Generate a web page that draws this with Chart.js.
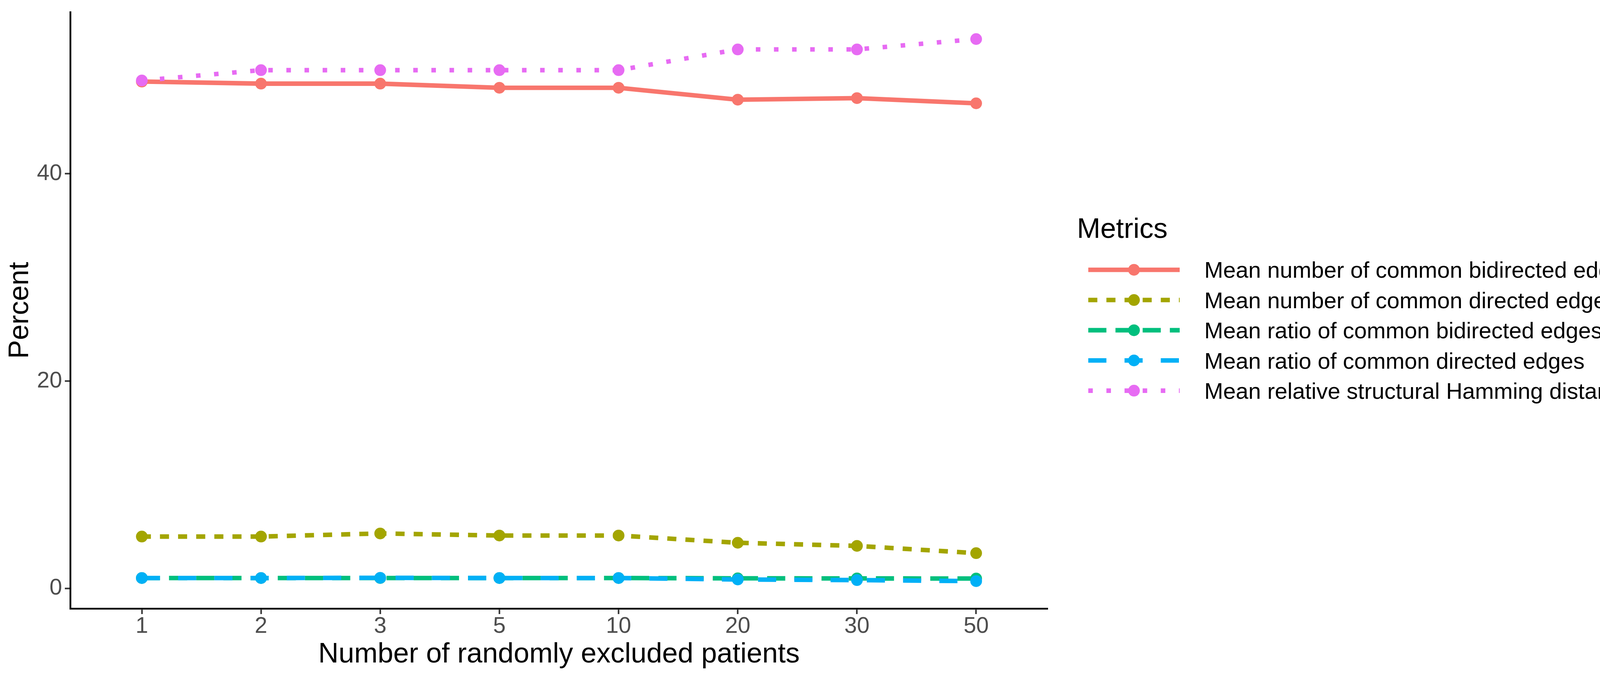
<!DOCTYPE html>
<html>
<head>
<meta charset="utf-8">
<script src="https://cdn.jsdelivr.net/npm/chart.js@4.4.1/dist/chart.umd.min.js"></script>
<style>
html,body{margin:0;padding:0;background:#fff;}
canvas{display:block;}
</style>
</head>
<body>
<canvas id="c" width="4330" height="1728" style="width:4330px;height:1728px"></canvas>
<script>
// ---- data ----
const categories = ["1", "2", "3", "5", "10", "20", "30", "50"];
const seriesNames = [
  "Mean number of common bidirected edges",
  "Mean number of common directed edges",
  "Mean ratio of common bidirected edges",
  "Mean ratio of common directed edges",
  "Mean relative structural Hamming distance×100"
];
const bidirectedNumber = [48.9, 48.7, 48.7, 48.3, 48.3, 47.15, 47.3, 46.8];
const directedNumber   = [5.0, 5.0, 5.3, 5.1, 5.1, 4.4, 4.1, 3.4];
const bidirectedRatio  = [1.0, 1.0, 1.0, 1.0, 1.0, 0.97, 0.96, 0.95];
const directedRatio    = [1.0, 1.0, 1.02, 1.0, 1.0, 0.86, 0.8, 0.7];
const hammingX100      = [49.0, 50.0, 50.0, 50.0, 50.0, 52.0, 52.0, 53.0];
const yTicks = [0, 20, 40];
const xTitle = "Number of randomly excluded patients";
const yTitle = "Percent";
const legendTitle = "Metrics";

// ---- styles ----
const seriesValues = [bidirectedNumber, directedNumber, bidirectedRatio, directedRatio, hammingX100];
const colors = ["#F8766D", "#A3A500", "#00BF7D", "#00B0F6", "#E76BF3"];
const LW = 11.6;
const dashes = [[], [2*LW, 2*LW], [4*LW, 2*LW], [4*LW, 4*LW], [1*LW, 3*LW]];
const PR = 15;
const FONT = '"Liberation Sans", Arial, sans-serif';
const SMALL = 58;
const BIG = 72;

const toPts = arr => arr.map((v, i) => ({x: i, y: v}));

const lineSets = seriesValues.map((vals, i) => ({
  label: seriesNames[i],
  data: toPts(vals),
  borderColor: colors[i],
  backgroundColor: colors[i],
  borderWidth: LW,
  borderDash: dashes[i],
  borderCapStyle: 'butt',
  borderJoinStyle: 'round',
  pointRadius: 0,
  fill: false,
  tension: 0,
  order: 20 - i
}));
const pointSets = seriesValues.map((vals, i) => ({
  label: seriesNames[i] + " points",
  data: toPts(vals),
  showLine: false,
  pointRadius: PR,
  pointBorderWidth: 0,
  pointBackgroundColor: colors[i],
  pointBorderColor: colors[i],
  order: 10 - i
}));

const legendPlugin = {
  id: 'ggLegend',
  afterDraw(chart) {
    const ctx = chart.ctx;
    ctx.save();
    ctx.fillStyle = '#000';
    ctx.font = BIG + 'px ' + FONT;
    ctx.textBaseline = 'alphabetic';
    ctx.textAlign = 'left';
    ctx.fillText(legendTitle, 2757, 609);
    seriesNames.forEach((name, i) => {
      const y = 690.7 + i * 77.35;
      ctx.strokeStyle = colors[i];
      ctx.lineWidth = LW;
      ctx.lineCap = 'butt';
      ctx.setLineDash(dashes[i]);
      ctx.beginPath();
      ctx.moveTo(2786, y);
      ctx.lineTo(3020, y);
      ctx.stroke();
      ctx.setLineDash([]);
      ctx.fillStyle = colors[i];
      ctx.beginPath();
      ctx.arc(2903, y, PR, 0, Math.PI * 2);
      ctx.fill();
      ctx.fillStyle = '#000';
      ctx.font = SMALL + 'px ' + FONT;
      ctx.textBaseline = 'alphabetic';
      ctx.fillText(name, 3083, y + 0.358 * SMALL);
    });
    ctx.restore();
  }
};

new Chart(document.getElementById('c'), {
  type: 'line',
  data: {datasets: [...lineSets, ...pointSets]},
  options: {
    responsive: false,
    devicePixelRatio: 1,
    animation: false,
    layout: {padding: {left: 0, top: 31, right: 4330 - 2682, bottom: 0}},
    plugins: {legend: {display: false}, tooltip: {enabled: false}},
    scales: {
      x: {
        type: 'linear',
        min: -0.6,
        max: 7.6,
        afterBuildTicks: s => { s.ticks = categories.map((c, i) => ({value: i})); },
        afterFit: s => { s.height = 1728 - 1558; s.paddingLeft = 0; s.paddingRight = 0; },
        ticks: {
          callback: v => categories[v],
          color: '#4D4D4D',
          font: {family: FONT, size: SMALL, lineHeight: 1},
          padding: 3,
          maxRotation: 0,
          autoSkip: false
        },
        grid: {display: true, drawOnChartArea: false, drawTicks: true, tickLength: 14, tickColor: '#333333', tickWidth: 4},
        border: {display: true, color: '#000', width: 4.5},
        title: {display: true, text: xTitle, color: '#000', font: {family: FONT, size: BIG}, padding: {top: 0, bottom: 9}}
      },
      y: {
        type: 'linear',
        min: -1.95,
        max: 55.6,
        afterBuildTicks: s => { s.ticks = yTicks.map(v => ({value: v})); },
        afterFit: s => { s.width = 180; s.paddingTop = 0; s.paddingBottom = 0; },
        ticks: {
          color: '#4D4D4D',
          font: {family: FONT, size: SMALL},
          padding: 7
        },
        grid: {display: true, drawOnChartArea: false, drawTicks: true, tickLength: 14, tickColor: '#333333', tickWidth: 4},
        border: {display: true, color: '#000', width: 4.5},
        title: {display: true, text: yTitle, color: '#000', font: {family: FONT, size: BIG}, padding: {top: 9, bottom: 0}}
      }
    }
  },
  plugins: [legendPlugin]
});
</script>
</body>
</html>
